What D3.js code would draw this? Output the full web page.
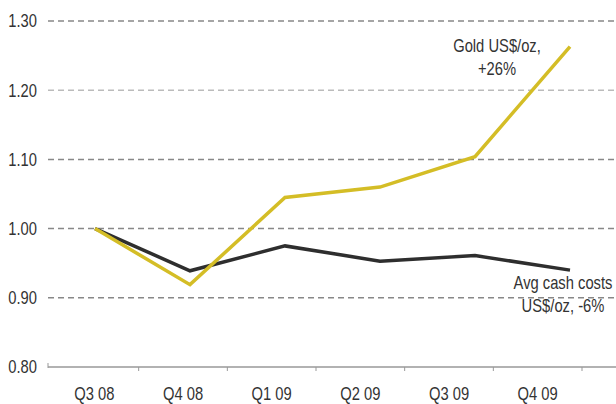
<!DOCTYPE html>
<html><head><meta charset="utf-8">
<script src="https://cdn.jsdelivr.net/npm/d3@7"></script>
<style>body{margin:0;background:#fff}svg{display:block}text{font-family:"Liberation Sans",Arial,sans-serif;fill:#333}</style>
</head><body><svg id="c" width="616" height="404"></svg>
<script>
const categories = ["Q3 08","Q4 08","Q1 09","Q2 09","Q3 09","Q4 09"];
const goldValues = [1.00, 0.919, 1.045, 1.06, 1.104, 1.263];
const cashValues = [1.00, 0.939, 0.975, 0.953, 0.961, 0.94];
const yTicks = [0.80, 0.90, 1.00, 1.10, 1.20, 1.30];
const goldLabel = ["Gold US$/oz,", "+26%"];
const cashLabel = ["Avg cash costs", "US$/oz, -6%"];

const FS = 18, SX = 0.82;
const svg = d3.select("#c");
const x = d3.scaleBand().domain(categories).range([50, 582]);
const xp = d3.scalePoint().domain(categories).range([95, 570]);
const y = d3.scaleLinear().domain([0.8, 1.3]).range([367, 21]);

// gridlines
svg.append("g").selectAll("line").data(yTicks.filter(d => d > 0.8)).join("line")
  .attr("x1", 48).attr("x2", 616)
  .attr("y1", d => y(d)).attr("y2", d => y(d))
  .attr("stroke", d => d === 1.2 ? "#bbb" : "#888").attr("stroke-width", 1.5)
  .attr("stroke-dasharray", "6,4");

// y labels
svg.append("g").selectAll("text").data(yTicks).join("text")
  .attr("transform", d => `translate(37,${y(d)}) scale(${SX},1)`)
  .attr("dy", "0.35em")
  .attr("text-anchor", "end").attr("font-size", FS)
  .text(d => d.toFixed(2));

// x axis
const xa = svg.append("g").attr("transform", "translate(0,367)")
  .call(d3.axisBottom(x).tickSize(0).tickPadding(20));
xa.select(".domain").remove();
xa.selectAll("text").attr("font-size", FS).attr("fill", "#333").style("font-family", null)
  .attr("transform", `scale(${SX},1)`);
xa.attr("font-family", null);
svg.append("line").attr("x1", 48).attr("x2", 616).attr("y1", 367).attr("y2", 367)
  .attr("stroke", "#999").attr("stroke-width", 1.5);
const bounds = categories.map(c => x(c)).concat([x.range()[1]]);
svg.append("g").selectAll("line").data(bounds.slice(1)).join("line")
  .attr("x1", d => d).attr("x2", d => d).attr("y1", 367).attr("y2", 371)
  .attr("stroke", "#999");
svg.append("line").attr("x1", 48).attr("x2", 48).attr("y1", 363).attr("y2", 368).attr("stroke", "#999");

const line = d3.line().x((d, i) => xp(categories[i])).y(d => y(d));
svg.append("path").datum(cashValues).attr("d", line).attr("fill", "none")
  .attr("stroke", "#2e2e2e").attr("stroke-width", 3.5).attr("stroke-linejoin", "miter");
svg.append("path").datum(goldValues).attr("d", line).attr("fill", "none")
  .attr("stroke", "#d4bd26").attr("stroke-width", 3.5).attr("stroke-linejoin", "miter");

function label(lines, cx, y0, gap) {
  svg.append("g").selectAll("text").data(lines).join("text")
    .attr("transform", (d, i) => `translate(${cx},${y0 + i * gap}) scale(${SX},1)`)
    .attr("text-anchor", "middle").attr("font-size", FS).text(d => d);
}
label(goldLabel, 497, 52, 23);
label(cashLabel, 563, 289, 23);
</script></body></html>
